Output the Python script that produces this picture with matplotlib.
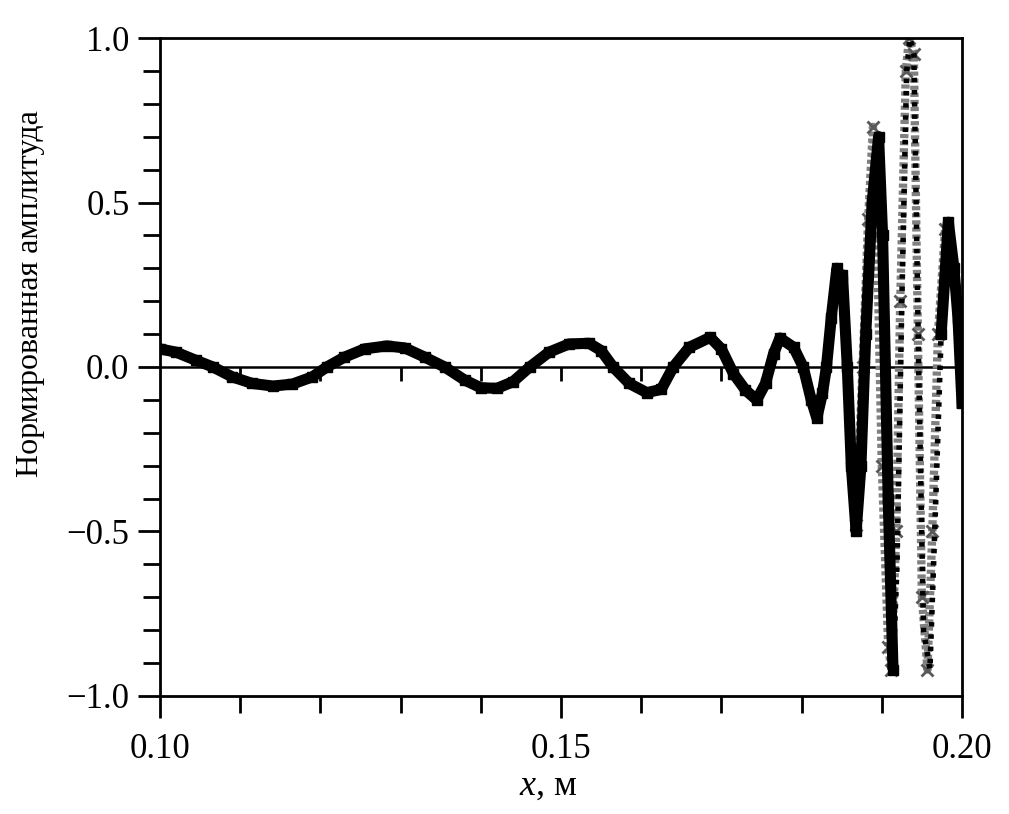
import numpy as np
import matplotlib
matplotlib.use("Agg")
import matplotlib.pyplot as plt
from matplotlib.ticker import MultipleLocator

plt.rcParams['font.family'] = ['Liberation Serif', 'DejaVu Serif']
plt.rcParams['mathtext.fontset'] = 'custom'
plt.rcParams['mathtext.it'] = 'Liberation Serif:italic'
plt.rcParams['mathtext.rm'] = 'Liberation Serif'

# black series (squares)
x_sq = [0.1000, 0.1020, 0.1045, 0.1066, 0.1090, 0.1115, 0.1141, 0.1165, 0.1190,
        0.1208, 0.1230, 0.1255, 0.1283, 0.1305, 0.1330, 0.1355, 0.1380, 0.1400,
        0.1420, 0.1440, 0.1461, 0.1485, 0.1510, 0.1535, 0.1550, 0.1565, 0.1585,
        0.1607, 0.1625, 0.1640, 0.1660, 0.1686, 0.1700, 0.1715, 0.1730, 0.1744,
        0.1755, 0.1765, 0.1773, 0.1790, 0.1802, 0.1812, 0.1819, 0.1826, 0.1831,
        0.1837, 0.1844, 0.1847, 0.1851, 0.1857, 0.1862, 0.1868, 0.1874, 0.1880,
        0.1888, 0.1896, 0.1901, 0.1908, 0.1914, 0.1919, 0.1925, 0.1931, 0.1935,
        0.1940, 0.1946, 0.1952, 0.1960, 0.1966, 0.1974, 0.1983, 0.1990, 0.1995,
        0.2000]
y_sq = [0.055, 0.045, 0.020, 0.000, -0.030, -0.050, -0.058, -0.052, -0.030,
        0.000, 0.030, 0.055, 0.064, 0.058, 0.030, 0.000, -0.040, -0.063,
        -0.065, -0.045, 0.000, 0.045, 0.070, 0.072, 0.050, 0.000, -0.050,
        -0.078, -0.068, 0.000, 0.060, 0.090, 0.055, -0.020, -0.070, -0.100,
        -0.050, 0.040, 0.088, 0.060, 0.000, -0.100, -0.155, -0.080, 0.000,
        0.150, 0.300, 0.270, 0.280, 0.000, -0.300, -0.500, -0.300, 0.100,
        0.500, 0.700, 0.400, -0.400, -0.920, -0.600, 0.200, 0.900, 1.000,
        0.950, 0.000, -0.800, -0.920, -0.500, 0.100, 0.440, 0.300, 0.150,
        -0.110]

# gray series (crosses)
x_cr = [0.1868, 0.1876, 0.1883, 0.1889, 0.1894, 0.1900, 0.1908, 0.1912, 0.1918,
        0.1923, 0.1930, 0.1934, 0.1940, 0.1945, 0.1950, 0.1957, 0.1963, 0.1970,
        0.1979, 0.1985]
y_cr = [-0.48, 0.00, 0.45, 0.73, 0.40, -0.30, -0.85, -0.92, -0.50,
        0.20, 0.90, 1.00, 0.95, 0.10, -0.70, -0.92, -0.50, 0.10,
        0.42, 0.30]

fig = plt.figure(figsize=(10.09, 8.14), dpi=100)
ax = fig.add_axes([0.1586, 0.1450, 0.7948, 0.8083])

ax.axhline(0, color='black', lw=1.8, zorder=1)

ax.plot(x_cr, y_cr, color='0.5', lw=6, ls=(0, (0.5, 0.35)), marker='x',
        ms=8, mew=2, mec='0.35', zorder=2)
cut = 58
ax.plot(x_sq[:cut + 1], y_sq[:cut + 1], color='black', lw=8, marker='s',
        ms=7, zorder=3, solid_capstyle='butt')
ax.plot(x_sq[cut:-4], y_sq[cut:-4], color='black', lw=4, ls=(0, (0.8, 1.4)),
        zorder=3)
ax.plot(x_sq[-5:], y_sq[-5:], color='black', lw=8, marker='s', ms=7, zorder=3)

ax.set_xlim(0.10, 0.20)
ax.set_ylim(-1.0, 1.0)
ax.set_xticks([0.10, 0.15, 0.20])
ax.set_xticklabels(['0.10', '0.15', '0.20'])
ax.set_yticks([-1.0, -0.5, 0.0, 0.5, 1.0])
ax.set_yticklabels(['\u22121.0', '\u22120.5', '0.0', '0.5', '1.0'])
ax.xaxis.set_minor_locator(MultipleLocator(0.01))
ax.yaxis.set_minor_locator(MultipleLocator(0.1))
ax.tick_params(axis='both', which='major', direction='out', length=16, width=2,
               top=False, right=False)
ax.tick_params(axis='both', which='minor', direction='out', length=12, width=2,
               top=False, right=False)
ax.tick_params(axis='x', which='major', pad=11, labelsize=25)
ax.tick_params(axis='y', which='major', pad=6, labelsize=25)
for s in ax.spines.values():
    s.set_linewidth(2)

# ticks on the zero line
sec = ax.secondary_xaxis(0.5)
sec.spines['top'].set_visible(False)
sec.spines['bottom'].set_visible(False)
sec.set_xticks(np.arange(0.11, 0.20, 0.01))
sec.set_xticklabels([])
sec.tick_params(direction='in', length=10, width=2)

ax.set_ylabel('Нормированная амплитуда', fontsize=23)
ax.yaxis.set_label_coords(-0.143, 0.612)
ax.set_xlabel('$\\mathit{x}$, м', fontsize=26)
ax.xaxis.set_label_coords(0.484, -0.112)

fig.savefig('out.png', dpi=100)
